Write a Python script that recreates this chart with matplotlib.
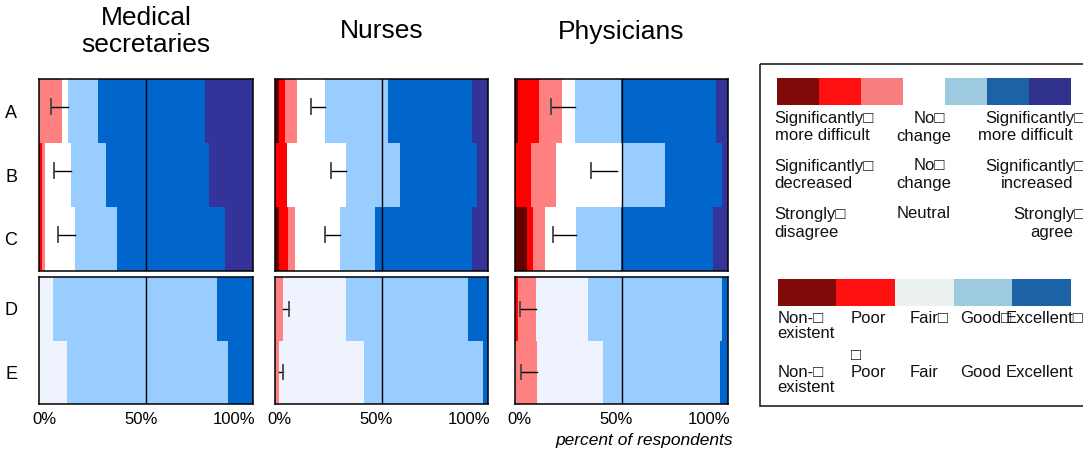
import numpy as np
import matplotlib
matplotlib.use('Agg')
import matplotlib.pyplot as plt
from matplotlib.patches import Rectangle
from matplotlib.transforms import ScaledTranslation

plt.rcParams['font.family'] = ['Liberation Sans', 'DejaVu Sans']

groups = ['Medical\nsecretaries', 'Nurses', 'Physicians']
top_rows = ['A', 'B', 'C']
bottom_rows = ['D', 'E']

# 7 point scale, percent of respondents per answer (A, B, C)
med_top = [[0, 0, 10.6, 2.7, 14.2, 50.2, 22.3],
           [0, 1.25, 1.45, 12.1, 16.45, 48.25, 20.5],
           [0, 1.1, 1.6, 14.0, 19.7, 50.6, 13.0]]
nur_top = [[2.0, 2.8, 5.6, 13.1, 29.5, 39.2, 7.8],
           [0, 5.9, 0, 27.4, 25.3, 35.9, 5.5],
           [2.0, 4.1, 3.4, 21.0, 16.4, 45.3, 7.8]]
phy_top = [[1.4, 10.0, 10.8, 6.0, 21.7, 44.3, 5.8],
           [0, 7.6, 11.7, 30.7, 20.4, 26.6, 3.0],
           [5.6, 3.0, 5.6, 14.5, 21.2, 42.9, 7.2]]

# 5 point scale (D, E): non-existent, poor, fair, good, excellent
med_bottom = [[0, 0, 6.4, 76.9, 16.7],
              [0, 0, 13.0, 75.4, 11.6]]
nur_bottom = [[0, 3.9, 29.4, 57.0, 9.7],
              [0, 1.9, 39.8, 55.7, 2.6]]
phy_bottom = [[1.4, 8.6, 24.3, 62.7, 3.0],
              [0, 10.5, 30.8, 54.8, 3.9]]

# error bars as (cap, base) in percent
med_top_err = [(5.5, 13.3), (6.9, 14.8), (8.75, 16.7)]
nur_top_err = [(16.8, 23.5), (26.2, 33.3), (23.5, 30.5)]
phy_top_err = [(17.2, 28.2), (35.7, 47.9), (17.9, 28.7)]
med_bottom_err = [None, None]
nur_bottom_err = [(6.7, 3.9), (4.0, 1.9)]
phy_bottom_err = [(2.7, 10.0), (2.8, 10.5)]

top_colors = ['#660000', '#ff0000', '#ff8080', '#ffffff', '#99ccff', '#0066cc', '#333399']
bottom_colors = ['#ff0000', '#ff8080', '#eef3fe', '#99ccff', '#0066cc']

# legend
leg_top_colors = ['#7f0a08', '#fe1010', '#f77f7f', '#ffffff', '#9ecae1', '#1b62a6', '#31318e']
leg_bottom_colors = ['#7f0a07', '#fe1010', '#ebf0f0', '#9ecae1', '#1b62a6']

W, H = 1083, 453
fig = plt.figure(figsize=(W / 100, H / 100), dpi=100)


def stacked_rows(ax, rows, colors, err, err_shift):
    vals = np.array(rows, dtype=float)
    y = np.arange(len(rows))
    left = np.zeros(len(rows))
    for j in range(vals.shape[1]):
        ax.barh(y, vals[:, j], left=left, height=1.0, color=colors[j],
                linewidth=0, antialiased=False)
        left += vals[:, j]
    for i, e in enumerate(err):
        if e is None:
            continue
        cap, base = e
        yy = i + err_shift
        ax.plot([cap, base], [yy, yy], color='black', lw=1.0)
        ax.plot([cap, cap], [yy - 0.11, yy + 0.11], color='#444444', lw=1.3)
    ax.axvline(50, color='black', lw=1)
    ax.set_xlim(0, 100)
    ax.set_ylim(len(rows) - 0.5, -0.5)
    ax.set_yticks(y)
    ax.tick_params(axis='y', length=0, pad=16, labelsize=13)
    for s in ax.spines.values():
        s.set_linewidth(1.1)
        s.set_color('black')


col_left = [39.3, 274.7, 514.7]
col_w = 213.6
top_data = [med_top, nur_top, phy_top]
top_err = [med_top_err, nur_top_err, phy_top_err]
bot_data = [med_bottom, nur_bottom, phy_bottom]
bot_err = [med_bottom_err, nur_bottom_err, phy_bottom_err]

for k in range(3):
    x0 = col_left[k] / W
    ax1 = fig.add_axes([x0, 1 - 271 / H, col_w / W, 192 / H])
    stacked_rows(ax1, top_data[k], top_colors, top_err[k], -0.07)
    ax1.set_xticks([])
    ax1.set_yticklabels(top_rows if k == 0 else [])

    ax2 = fig.add_axes([x0, 1 - 404 / H, col_w / W, 127 / H])
    stacked_rows(ax2, bot_data[k], bottom_colors, bot_err[k], 0)
    ax2.set_xticks([0, 50, 100])
    ax2.set_xticklabels(['0%', '50%', '100%'])
    ax2.tick_params(axis='x', length=0, pad=6, labelsize=12)
    for lab, dx in zip(ax2.get_xticklabels(), [5, -5, -19]):
        lab.set_transform(lab.get_transform() + ScaledTranslation(dx / 100, 0, fig.dpi_scale_trans))
    ax2.set_yticklabels(bottom_rows if k == 0 else [])

    fig.text((col_left[k] + col_w / 2) / W, 1 - 31.5 / H, groups[k], ha='center', va='center',
             fontsize=19, linespacing=1.2)

fig.text(733 / W, 1 - 441 / H, 'percent of respondents', ha='right', va='center',
         style='italic', fontsize=12.5)

# legend panel drawn in pixel coordinates
lg = fig.add_axes([0, 0, 1, 1])
lg.set_xlim(0, W)
lg.set_ylim(H, 0)
lg.axis('off')
lg.add_patch(Rectangle((760, 64.3), 340, 341.4, fill=False, edgecolor='#222222', lw=1.2))

sw = (1071 - 776.7) / len(leg_top_colors)
for i, c in enumerate(leg_top_colors):
    lg.add_patch(Rectangle((776.7 + i * sw, 77.7), sw, 27, facecolor=c, edgecolor='none'))
sw = (1071 - 777.7) / len(leg_bottom_colors)
for i, c in enumerate(leg_bottom_colors):
    lg.add_patch(Rectangle((777.7 + i * sw, 279), sw, 26.7, facecolor=c, edgecolor='none'))

box = '\u25a1'
leg_texts = [
    (774.7, 118.3, 'Significantly' + box, 'left'), (774.7, 136, 'more difficult', 'left'),
    (774.7, 166, 'Significantly' + box, 'left'), (774.7, 183.7, 'decreased', 'left'),
    (774.7, 214, 'Strongly' + box, 'left'), (774.7, 232, 'disagree', 'left'),
    (929.5, 118.3, 'No' + box, 'center'), (924, 136, 'change', 'center'),
    (929.5, 166, 'No' + box, 'center'), (924, 183.7, 'change', 'center'),
    (924, 214, 'Neutral', 'center'),
    (1085, 118.3, 'Significantly' + box, 'right'), (1073, 136, 'more difficult', 'right'),
    (1085, 166, 'Significantly' + box, 'right'), (1073, 183.7, 'increased', 'right'),
    (1085, 214, 'Strongly' + box, 'right'), (1073, 232, 'agree', 'right'),
    (777.3, 318.3, 'Non-' + box, 'left'), (777.3, 333.3, 'existent', 'left'),
    (851, 318.3, 'Poor', 'left'), (909.7, 318.3, 'Fair' + box, 'left'),
    (960, 318.3, 'Good' + box, 'left'), (1006, 318.3, 'Excellent' + box, 'left'),
    (777.3, 372.3, 'Non-' + box, 'left'), (777.3, 387.3, 'existent', 'left'),
    (851, 356, box, 'left'), (851, 372.3, 'Poor', 'left'),
    (909.7, 372.3, 'Fair', 'left'), (960, 372.3, 'Good', 'left'),
    (1006, 372.3, 'Excellent', 'left'),
]
for x, y, t, ha in leg_texts:
    lg.text(x, y, t, ha=ha, va='center', fontsize=12, color='#111111')

fig.savefig('out.png', dpi=100)
